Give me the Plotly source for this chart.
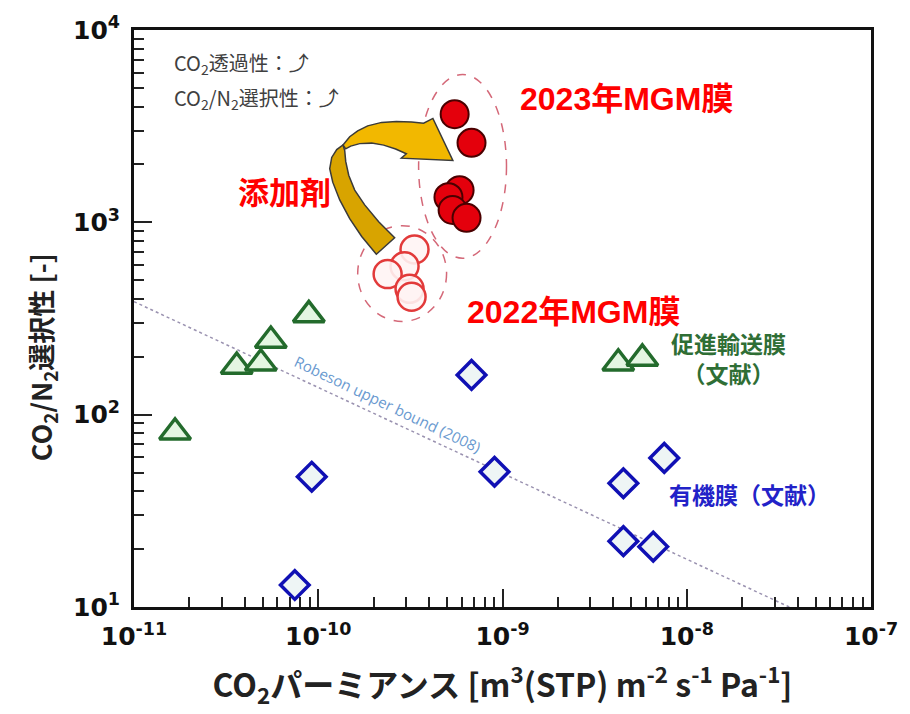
import plotly.graph_objects as go

# ---------------- data ----------------
ft_perm = [1.67e-11, 3.61e-11, 4.88e-11, 5.53e-11, 8.89e-11, 4.25e-9, 5.74e-9]
ft_sel = [81, 178, 185, 243, 330, 185, 196]

org_perm = [6.79e-10, 9.22e-11, 7.46e-11, 9.05e-10, 4.53e-9, 7.55e-9, 4.53e-9, 6.58e-9]
org_sel = [161, 47.6, 13, 50.5, 44, 59.6, 22, 20.6]

mgm2023_perm = [5.5e-10, 6.79e-10, 5.85e-10, 5.09e-10, 5.36e-10, 6.38e-10]
mgm2023_sel = [3648, 2590, 1469, 1352, 1159, 1055]

mgm2022_perm = [3.33e-10, 2.94e-10, 2.38e-10, 3.13e-10, 3.21e-10]
mgm2022_sel = [722, 591, 538, 451, 410]

robeson_perm = [1e-11, 3.6e-8]
robeson_sel = [387, 10]

x_tickvals = [1e-11, 1e-10, 1e-9, 1e-8, 1e-7]
x_ticktext = ["10<sup>-11</sup>", "10<sup>-10</sup>", "10<sup>-9</sup>", "10<sup>-8</sup>", "10<sup>-7</sup>"]
y_tickvals = [10, 100, 1000, 10000]
y_ticktext = ["10<sup>1</sup>", "10<sup>2</sup>", "10<sup>3</sup>", "10<sup>4</sup>"]

# ---------------- layout geometry ----------------
W_FIG, H_FIG = 910, 714
L, T, R, B = 134, 23, 38, 107
W = W_FIG - L - R
H = H_FIG - T - B


def px(x):
    return (x - L) / W


def py(y):
    return (T + H - y) / H


def path_from(points):
    return "M " + " L ".join(f"{px(a):.5f},{py(b):.5f}" for a, b in points) + " Z"


minor_x = [k * 10.0 ** n for n in range(-11, -7) for k in range(2, 10)]
minor_y = [k * 10.0 ** n for n in range(1, 4) for k in range(2, 10)]

fig = go.Figure()

fig.add_trace(go.Scatter(
    x=robeson_perm, y=robeson_sel, mode="lines",
    line=dict(color="#9a92b0", width=1.5, dash="dot"), hoverinfo="skip"))

fig.add_trace(go.Scatter(
    x=ft_perm, y=ft_sel, mode="markers",
    marker=dict(symbol="triangle-up", size=27, color="#e4f6e2",
                line=dict(color="#236b2c", width=3.5))))

fig.add_trace(go.Scatter(
    x=org_perm, y=org_sel, mode="markers",
    marker=dict(symbol="diamond", size=22, color="#eef5f5",
                line=dict(color="#1010b4", width=3.5))))

fig.add_trace(go.Scatter(
    x=mgm2022_perm, y=mgm2022_sel, mode="markers",
    marker=dict(symbol="circle", size=28, color="rgba(255,244,244,0.9)",
                line=dict(color="#e23a3a", width=2.5))))

fig.add_trace(go.Scatter(
    x=mgm2023_perm, y=mgm2023_sel, mode="markers",
    marker=dict(symbol="circle", size=28, color="#e4000c",
                line=dict(color="#4a0000", width=2))))

shapes = []
shapes.append(dict(type="circle", xref="paper", yref="paper",
                   x0=px(419), x1=px(507), y0=py(254), y1=py(68),
                   line=dict(color="#d46878", width=1.5, dash="dash"), layer="below"))
shapes.append(dict(type="circle", xref="paper", yref="paper",
                   x0=px(358), x1=px(447), y0=py(318), y1=py(221),
                   line=dict(color="#d46878", width=1.5, dash="dash"), layer="below"))

lower = [(376.7, 250), (362, 232), (350, 214), (340, 195), (333, 177), (330, 163.3), (332, 152),
         (337, 144), (343.3, 139.3),
         (345, 145), (346, 156), (349, 170), (355, 185), (365, 200), (379, 217), (395, 233.3)]
shapes.append(dict(type="path", xref="paper", yref="paper", path=path_from(lower),
                   fillcolor="#d8a400", line=dict(color="#3a3a3a", width=1.5), layer="above"))
upper = [(343.3, 139.3), (350, 131), (358, 125), (368, 120), (382, 116.5), (396.7, 115.5),
         (412, 116), (424, 117.3),
         (433.3, 112.5), (453.3, 155), (401.7, 152.7), (406.7, 148.3), (396, 143.5),
         (384, 139.5), (372, 137.5), (360, 138), (351, 140.5), (346, 143.3)]
shapes.append(dict(type="path", xref="paper", yref="paper", path=path_from(upper),
                   fillcolor="#f2b800", line=dict(color="#3a3a3a", width=1.5), layer="above"))

annos = []
gray_font = dict(family="Noto Sans CJK JP, DejaVu Sans", size=20, color="#404040")
annos.append(dict(xref="paper", yref="paper", x=px(172), y=py(57), xanchor="left", yanchor="middle",
                  text="CO<sub>2</sub>透過性：⤴", showarrow=False, font=gray_font))
annos.append(dict(xref="paper", yref="paper", x=px(172), y=py(92), xanchor="left", yanchor="middle",
                  text="CO<sub>2</sub>/N<sub>2</sub>選択性：⤴", showarrow=False, font=gray_font))

red_font = dict(family="Liberation Sans, Noto Sans CJK JP", size=32, color="#ff0000", weight="bold")
annos.append(dict(xref="paper", yref="paper", x=px(627), y=py(93), xanchor="center", yanchor="middle",
                  text="<b>2023年MGM膜</b>", showarrow=False, font=red_font))
annos.append(dict(xref="paper", yref="paper", x=px(285), y=py(188), xanchor="center", yanchor="middle",
                  text="<b>添加剤</b>", showarrow=False,
                  font=dict(family="Liberation Sans, Noto Sans CJK JP", size=31, color="#ff0000", weight="bold")))
annos.append(dict(xref="paper", yref="paper", x=px(574), y=py(308), xanchor="center", yanchor="middle",
                  text="<b>2022年MGM膜</b>", showarrow=False, font=red_font))

green_font = dict(family="Noto Sans CJK JP", size=23, color="#2f6e35")
annos.append(dict(xref="paper", yref="paper", x=px(729), y=py(355), xanchor="center", yanchor="middle",
                  text="<b>促進輸送膜</b><br><b>（文献）</b>", showarrow=False, align="center",
                  font=green_font))

blue_font = dict(family="Noto Sans CJK JP", size=23, color="#2222c8")
annos.append(dict(xref="paper", yref="paper", x=px(750), y=py(493), xanchor="center", yanchor="middle",
                  text="<b>有機膜（文献）</b>", showarrow=False, font=blue_font))

annos.append(dict(x=-9.623, y=2.058, xref="x", yref="y", text="Robeson upper bound (2008)",
                  showarrow=False, textangle=25.5,
                  font=dict(family="Open Sans, DejaVu Sans", size=15, color="#6a9ad0")))

title_font_y = dict(family="Noto Sans CJK JP", size=27, color="#222222", weight="bold")
annos.append(dict(xref="paper", yref="paper", x=px(42), y=py(354), xanchor="center", yanchor="middle",
                  text="<b>CO<sub>2</sub>/N<sub>2</sub>選択性 [-]</b>", showarrow=False, textangle=-90,
                  font=title_font_y))

tick_font = dict(family="DejaVu Sans", size=25, color="#111111", weight="bold")
title_font = dict(family="Noto Sans CJK JP", size=32, color="#222222", weight="bold")

fig.update_layout(
    width=W_FIG, height=H_FIG,
    margin=dict(l=L, r=R, t=T, b=B),
    paper_bgcolor="white", plot_bgcolor="white",
    showlegend=False,
    shapes=shapes, annotations=annos,
    xaxis=dict(type="log", range=[-11, -7], tickvals=x_tickvals, ticktext=x_ticktext,
               ticks="inside", ticklen=18, tickwidth=2, tickcolor="#222",
               minor=dict(tickvals=minor_x, ticks="inside", ticklen=10, tickwidth=1.5, tickcolor="#222", showgrid=False),
               showline=True, linecolor="#111", linewidth=3, mirror=True, showgrid=False, zeroline=False,
               tickfont=tick_font, ticklabelstandoff=5,
               title=dict(text="<b>CO<sub>2</sub>パーミアンス [m<sup>3</sup>(STP) m<sup>-2</sup> s<sup>-1</sup> Pa<sup>-1</sup>]</b>",
                          font=title_font, standoff=25)),
    yaxis=dict(type="log", range=[1, 4], tickvals=y_tickvals, ticktext=y_ticktext,
               ticks="inside", ticklen=18, tickwidth=2, tickcolor="#222",
               minor=dict(tickvals=minor_y, ticks="inside", ticklen=10, tickwidth=1.5, tickcolor="#222", showgrid=False),
               showline=True, linecolor="#111", linewidth=3, mirror=True, showgrid=False, zeroline=False,
               tickfont=tick_font, ticklabelstandoff=6),
)

fig.write_html("out.html", post_script="document.body.style.margin='0px';",
               config={"displayModeBar": False})
